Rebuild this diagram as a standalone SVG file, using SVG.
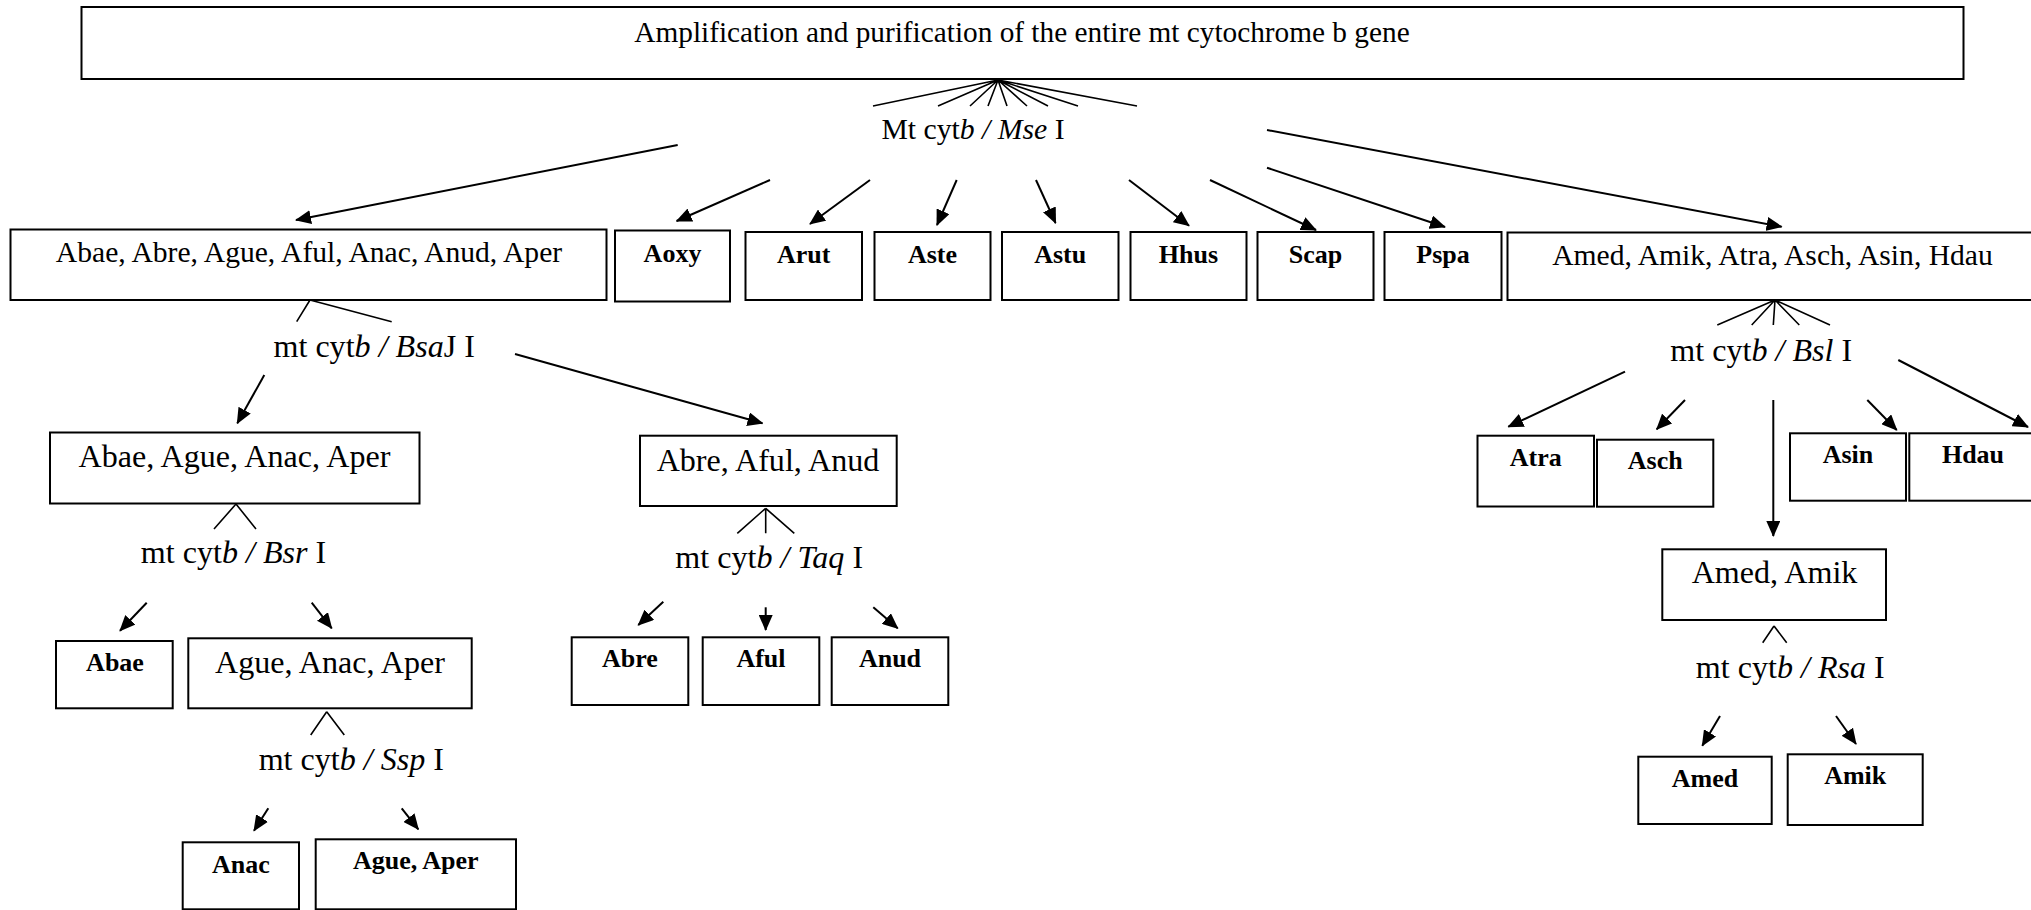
<svg xmlns="http://www.w3.org/2000/svg" width="2031" height="910" viewBox="0 0 2031 910">
<style>
.box{fill:#fff;stroke:#000;stroke-width:2}
.t{font-family:"Liberation Serif","Times New Roman",serif;fill:#000;text-anchor:middle}
.t1{font-size:29.6px}
.t2{font-size:32.1px}
.tb{font-size:26px;font-weight:bold}
.i{font-style:italic}
.arr{stroke:#000;stroke-width:2;fill:none;marker-end:url(#ah)}
.fan{stroke:#000;stroke-width:1.6;fill:none}
</style>
<defs>
<marker id="ah" markerUnits="userSpaceOnUse" markerWidth="16" markerHeight="14" refX="15" refY="7" orient="auto">
<path d="M0,0 L16,7 L0,14 z" fill="#000"/>
</marker>
</defs>
<rect width="2031" height="910" fill="#fff"/>

<g id="connectors">
<!-- Mse fan -->
<path class="fan" d="M998,80 L873,106 M998,80 L938,106 M998,80 L970,106 M998,80 L988,106 M998,80 L1007,106 M998,80 L1027,106 M998,80 L1048,106 M998,80 L1078,106 M998,80 L1137,106"/>
<line class="arr" x1="677.7" y1="145" x2="296" y2="220"/>
<line class="arr" x1="770" y1="180" x2="676.6" y2="221"/>
<line class="arr" x1="870" y1="180" x2="810" y2="224"/>
<line class="arr" x1="956.7" y1="180" x2="937" y2="225"/>
<line class="arr" x1="1036" y1="180" x2="1055.6" y2="223"/>
<line class="arr" x1="1129" y1="180" x2="1189" y2="225.7"/>
<line class="arr" x1="1210" y1="180" x2="1316" y2="230"/>
<line class="arr" x1="1267" y1="167.7" x2="1445" y2="227"/>
<line class="arr" x1="1267" y1="130" x2="1781.6" y2="226.7"/>
<!-- BsaJ -->
<path class="fan" d="M310,300 L296.7,321.7 M310,300 L391.7,321.7"/>
<line class="arr" x1="264.3" y1="375" x2="237.3" y2="423.3"/>
<line class="arr" x1="515" y1="354" x2="762.5" y2="423.3"/>
<!-- Bsr -->
<path class="fan" d="M236,504 L214,529 M236,504 L256,529"/>
<line class="arr" x1="146.7" y1="602.7" x2="120" y2="630.7"/>
<line class="arr" x1="311.7" y1="602.7" x2="331.7" y2="628.3"/>
<!-- Ssp -->
<path class="fan" d="M326.7,711.7 L310.7,735 M326.7,711.7 L344.3,735"/>
<line class="arr" x1="268.3" y1="808.3" x2="254" y2="830.7"/>
<line class="arr" x1="401.7" y1="808.3" x2="418.3" y2="829.3"/>
<!-- Taq -->
<path class="fan" d="M765.7,508.3 L737.3,533.3 M765.7,508.3 L765.7,533.3 M765.7,508.3 L794.3,533.3"/>
<line class="arr" x1="663.3" y1="601.7" x2="638.3" y2="625"/>
<line class="arr" x1="765.7" y1="607.3" x2="765.7" y2="630"/>
<line class="arr" x1="873.3" y1="607.3" x2="897.7" y2="628.3"/>
<!-- Bsl -->
<path class="fan" d="M1775,300 L1717.3,325 M1775,300 L1751.7,325 M1775,300 L1773.3,325 M1775,300 L1799.3,325 M1775,300 L1830,325"/>
<line class="arr" x1="1625" y1="371.7" x2="1508.3" y2="426.7"/>
<line class="arr" x1="1685" y1="400" x2="1656.7" y2="429.3"/>
<line class="arr" x1="1773.3" y1="400" x2="1773.3" y2="536"/>
<line class="arr" x1="1867.3" y1="400" x2="1896.7" y2="430"/>
<line class="arr" x1="1898.3" y1="360" x2="2028" y2="427"/>
<!-- Rsa -->
<path class="fan" d="M1774,626 L1762.7,642.7 M1774,626 L1786.7,642.7"/>
<line class="arr" x1="1720" y1="716" x2="1702.3" y2="745.7"/>
<line class="arr" x1="1836" y1="716" x2="1856" y2="744"/>
</g>

<g id="n-top"><rect class="box" x="81.5" y="7" width="1882" height="72"/><text class="t" style="font-size:29.3px" x="1022" y="41.7">Amplification and purification of the entire mt cytochrome b gene</text></g>
<g id="e-mse"><text class="t" style="font-size:29.7px" x="973" y="139.3">Mt cyt<tspan class="i">b / Mse</tspan> I</text></g>

<g id="n-all7"><rect class="box" x="10.5" y="229.5" width="596" height="70.5"/><text class="t t1" x="309" y="261.7">Abae, Abre, Ague, Aful, Anac, Anud, Aper</text></g>
<g id="n-aoxy"><rect class="box" x="615" y="230.5" width="115" height="71"/><text class="t tb" x="672.5" y="261.7">Aoxy</text></g>
<g id="n-arut"><rect class="box" x="745.5" y="232" width="116.5" height="68"/><text class="t tb" x="803.7" y="263">Arut</text></g>
<g id="n-aste"><rect class="box" x="874.5" y="232" width="116" height="68"/><text class="t tb" x="932.5" y="263">Aste</text></g>
<g id="n-astu"><rect class="box" x="1002" y="232" width="116.5" height="68"/><text class="t tb" x="1060.2" y="263">Astu</text></g>
<g id="n-hhus"><rect class="box" x="1130.5" y="232" width="116" height="68"/><text class="t tb" x="1188.5" y="263">Hhus</text></g>
<g id="n-scap"><rect class="box" x="1257.5" y="232" width="116" height="68"/><text class="t tb" x="1315.5" y="263">Scap</text></g>
<g id="n-pspa"><rect class="box" x="1384.5" y="232" width="117" height="68"/><text class="t tb" x="1443" y="263">Pspa</text></g>
<g id="n-all6"><rect class="box" x="1507.5" y="232.5" width="530" height="67.5"/><text class="t t1" x="1772.5" y="265">Amed, Amik, Atra, Asch, Asin, Hdau</text></g>

<g id="e-bsaj"><text class="t t2" x="374.2" y="356.7">mt cyt<tspan class="i">b / Bsa</tspan>J I</text></g>
<g id="n-abae4"><rect class="box" x="50" y="432.5" width="369.5" height="71"/><text class="t t2" x="234.5" y="466.7">Abae, Ague, Anac, Aper</text></g>
<g id="n-abre3"><rect class="box" x="640" y="435.7" width="256.7" height="70.3"/><text class="t t2" x="768" y="470.7">Abre, Aful, Anud</text></g>

<g id="e-bsr"><text class="t t2" x="233.5" y="563.3">mt cyt<tspan class="i">b / Bsr</tspan> I</text></g>
<g id="n-abae"><rect class="box" x="56" y="641" width="116.7" height="67.3"/><text class="t tb" x="115" y="670.7">Abae</text></g>
<g id="n-ague3"><rect class="box" x="188.3" y="638.3" width="283.4" height="70"/><text class="t t2" x="330" y="672.7">Ague, Anac, Aper</text></g>

<g id="e-ssp"><text class="t t2" x="351.3" y="770">mt cyt<tspan class="i">b / Ssp</tspan> I</text></g>
<g id="n-anac"><rect class="box" x="182.7" y="842.3" width="116.3" height="67"/><text class="t tb" x="240.8" y="872.7">Anac</text></g>
<g id="n-agueaper"><rect class="box" x="315.7" y="839.3" width="200.3" height="70"/><text class="t tb" x="415.8" y="869.3">Ague, Aper</text></g>

<g id="e-taq"><text class="t t2" x="769.2" y="568.3">mt cyt<tspan class="i">b / Taq</tspan> I</text></g>
<g id="n-abre"><rect class="box" x="571.7" y="637.3" width="116.6" height="67.7"/><text class="t tb" x="630" y="667.3">Abre</text></g>
<g id="n-aful"><rect class="box" x="702.7" y="637.3" width="116.6" height="67.7"/><text class="t tb" x="761" y="667.3">Aful</text></g>
<g id="n-anud"><rect class="box" x="831.7" y="637.3" width="116.6" height="67.7"/><text class="t tb" x="890" y="667.3">Anud</text></g>

<g id="e-bsl"><text class="t t2" x="1761.2" y="360.7">mt cyt<tspan class="i">b / Bsl</tspan> I</text></g>
<g id="n-atra"><rect class="box" x="1477.5" y="435.7" width="116.5" height="70.8"/><text class="t tb" x="1535.7" y="466">Atra</text></g>
<g id="n-asch"><rect class="box" x="1597" y="439.7" width="116.3" height="67"/><text class="t tb" x="1655.2" y="469.3">Asch</text></g>
<g id="n-asin"><rect class="box" x="1790" y="433.3" width="116" height="67.4"/><text class="t tb" x="1848" y="463.3">Asin</text></g>
<g id="n-hdau"><rect class="box" x="1909.3" y="433.3" width="128" height="67.4"/><text class="t tb" x="1973" y="463.3">Hdau</text></g>
<g id="n-amedamik"><rect class="box" x="1662.3" y="549.3" width="223.7" height="70.7"/><text class="t t2" x="1774.5" y="583.3">Amed, Amik</text></g>

<g id="e-rsa"><text class="t t2" x="1790.3" y="678.3">mt cyt<tspan class="i">b / Rsa</tspan> I</text></g>
<g id="n-amed"><rect class="box" x="1638.3" y="756.7" width="133.4" height="67.3"/><text class="t tb" x="1705" y="786.7">Amed</text></g>
<g id="n-amik"><rect class="box" x="1787.7" y="754.3" width="135" height="70.7"/><text class="t tb" x="1855.2" y="784.3">Amik</text></g>
</svg>
